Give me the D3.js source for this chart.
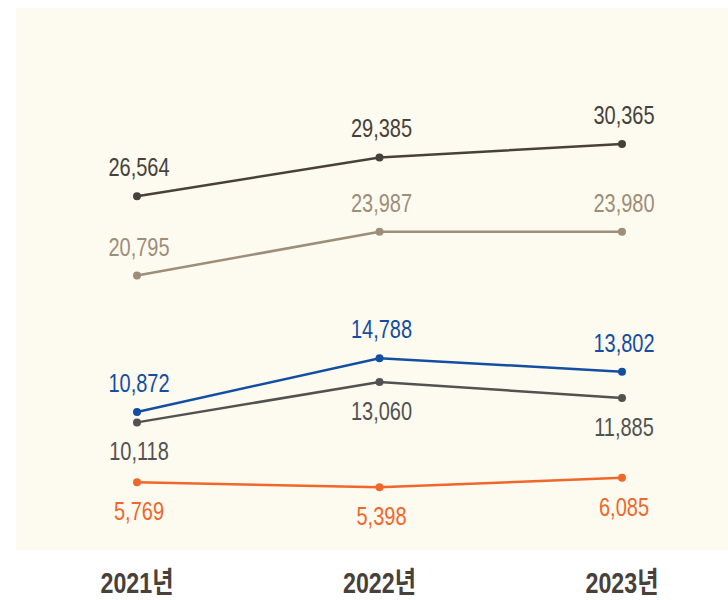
<!DOCTYPE html>
<html>
<head>
<meta charset="utf-8">
<script src="https://cdn.jsdelivr.net/npm/d3@7"></script>
<style>
    body { margin: 0; background: #fff; }
    svg text { font-family: "Liberation Sans Narrow", "Liberation Sans", "Noto Sans CJK KR", sans-serif; }
</style>
</head>
<body>
<div id="chart"></div>
<script>
// data
const years = ["2021년", "2022년", "2023년"];
const seriesA = [26564, 29385, 30365];
const seriesB = [20795, 23987, 23980];
const seriesC = [10872, 14788, 13802];
const seriesD = [10118, 13060, 11885];
const seriesE = [5769, 5398, 6085];

// colour and label side for each line
const series = [
    {values: seriesA, color: "#48413a", label: "above"},
    {values: seriesB, color: "#9d8e79", label: "above"},
    {values: seriesC, color: "#134ea2", label: "above"},
    {values: seriesD, color: "#525252", label: "below"},
    {values: seriesE, color: "#f0672a", label: "below"}
];

const width = 728, height = 600;
const squeeze = 0.8; // the original type is condensed

const svg = d3.select("#chart").append("svg")
    .attr("width", width)
    .attr("height", height);

// cream panel
svg.append("rect")
    .attr("x", 16).attr("y", 8)
    .attr("width", width - 16).attr("height", 542)
    .attr("fill", "#fdfaef");

const x = d3.scalePoint()
    .domain(years)
    .range([137, 622]);

const y = d3.scaleLinear()
    .domain([0, 30000])
    .range([561.5, 149]);

const line = d3.line()
    .x((d, i) => x(years[i]))
    .y(d => y(d));

const fmt = d3.format(",");

series.forEach(function(s){
    let g = svg.append("g");

    g.append("path")
        .attr("d", line(s.values))
        .attr("fill", "none")
        .attr("stroke", s.color)
        .attr("stroke-width", 2.5);

    g.selectAll("circle")
        .data(s.values)
        .enter()
        .append("circle")
        .attr("cx", (d, i) => x(years[i]))
        .attr("cy", d => y(d))
        .attr("r", 4)
        .attr("fill", s.color);

    g.selectAll("text")
        .data(s.values)
        .enter()
        .append("text")
        .text(d => fmt(d))
        .attr("transform", function(d, i){
            let ty = s.label === "above" ? y(d) - 20 : y(d) + 38;
            return "translate(" + (x(years[i]) + 2) + "," + ty + ") scale(" + squeeze + ",1)";
        })
        .attr("text-anchor", "middle")
        .attr("fill", s.color)
        .style("font-size", "25px");
});

// year labels
svg.append("g")
    .selectAll("text")
    .data(years)
    .enter()
    .append("text")
    .text(d => d)
    .attr("transform", d => "translate(" + x(d) + ",593) scale(" + squeeze + ",1)")
    .attr("text-anchor", "middle")
    .attr("fill", "#48413a")
    .style("font-size", "29px")
    .style("font-weight", "bold");
</script>
</body>
</html>
